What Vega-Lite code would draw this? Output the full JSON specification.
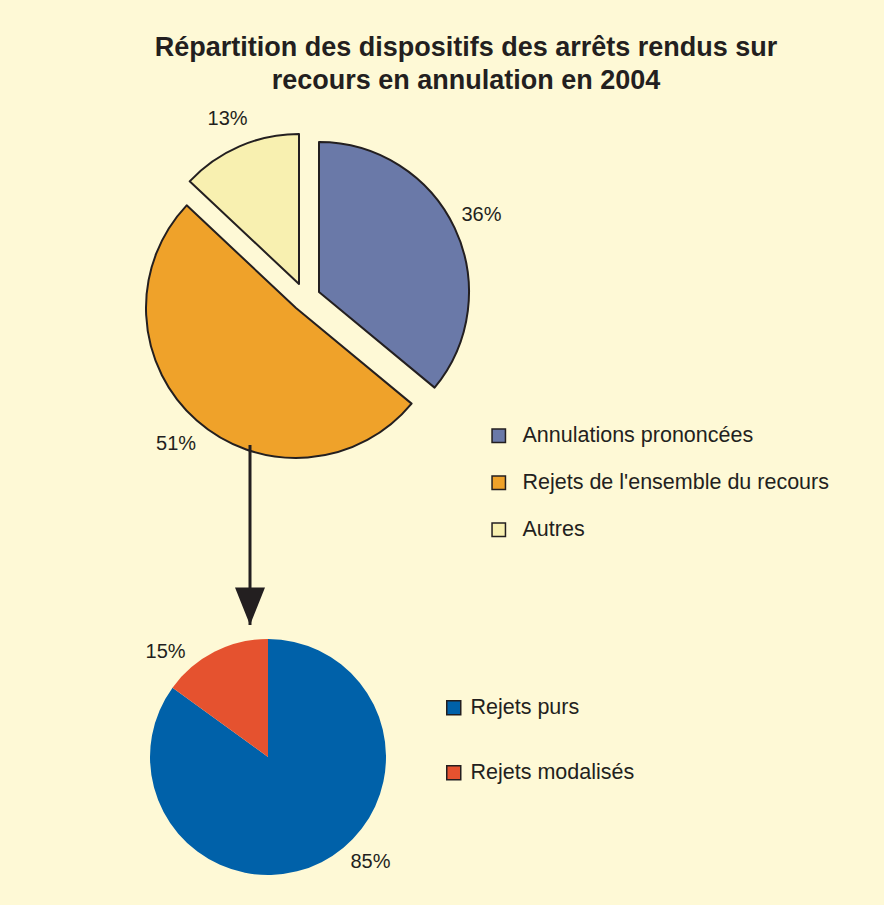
{
  "$schema": "https://vega.github.io/schema/vega-lite/v6.json",
  "background": "#FEF9D6",
  "padding": {"left": 15, "top": 34, "right": 55, "bottom": 16},
  "autosize": {"type": "pad"},
  "title": {
    "text": ["Répartition des dispositifs des arrêts rendus sur", "recours en annulation en 2004"],
    "font": "Liberation Sans",
    "fontSize": 27,
    "fontWeight": "bold",
    "color": "#231F20",
    "anchor": "middle",
    "lineHeight": 33,
    "offset": 14,
    "dx": 44
  },
  "config": {"view": {"stroke": null}, "font": "Liberation Sans"},
  "spacing": 0,
  "bounds": "flush",
  "resolve": {"scale": {"color": "independent", "theta": "independent"}},
  "vconcat": [
    {
      "width": 580,
      "height": 294,
      "data": {
        "values": [
          {"dispositif": "Annulations prononcées", "part": 0.36},
          {"dispositif": "Rejets de l'ensemble du recours", "part": 0.51},
          {"dispositif": "Autres", "part": 0.13}
        ]
      },
      "transform": [
        {"window": [{"op": "row_number", "as": "rang"}]},
        {"stack": "part", "groupby": [], "sort": [{"field": "rang", "order": "ascending"}], "as": ["debut", "fin"]}
      ],
      "layer": [
        {
          "transform": [{"filter": "datum.rang == 2"}],
          "mark": {"type": "arc", "outerRadius": 150, "stroke": "#231F20", "strokeWidth": 2, "strokeJoin": "round", "xOffset": -9, "yOffset": 10},
          "encoding": {
            "theta": {"field": "debut", "type": "quantitative", "stack": null, "scale": {"domain": [0, 1]}},
            "theta2": {"field": "fin"},
            "color": {
              "field": "dispositif",
              "type": "nominal",
              "scale": {
                "domain": ["Annulations prononcées", "Rejets de l'ensemble du recours", "Autres"],
                "range": ["#6A79A8", "#EFA22A", "#F8F0B0"]
              },
              "legend": {
                "orient": "none",
                "legendX": 473,
                "legendY": 274,
                "title": null,
                "padding": 0,
                "symbolType": "square",
                "symbolSize": 180,
                "symbolStrokeColor": "#231F20",
                "symbolStrokeWidth": 1.5,
                "symbolOpacity": 1,
                "labelFont": "Liberation Sans",
                "labelFontSize": 21.5,
                "labelColor": "#231F20",
                "labelOffset": 13,
                "labelLimit": 400,
                "rowPadding": 24
              }
            }
          }
        },
        {
          "transform": [{"filter": "datum.rang == 1"}],
          "mark": {"type": "arc", "outerRadius": 150, "stroke": "#231F20", "strokeWidth": 2, "strokeJoin": "round", "xOffset": 14, "yOffset": -6},
          "encoding": {
            "theta": {"field": "debut", "type": "quantitative", "stack": null, "scale": {"domain": [0, 1]}},
            "theta2": {"field": "fin"},
            "color": {"field": "dispositif", "type": "nominal"}
          }
        },
        {
          "transform": [{"filter": "datum.rang == 3"}],
          "mark": {"type": "arc", "outerRadius": 150, "stroke": "#231F20", "strokeWidth": 2, "strokeJoin": "round", "xOffset": -6, "yOffset": -14},
          "encoding": {
            "theta": {"field": "debut", "type": "quantitative", "stack": null, "scale": {"domain": [0, 1]}},
            "theta2": {"field": "fin"},
            "color": {"field": "dispositif", "type": "nominal"}
          }
        },
        {
          "mark": {"type": "text", "radius": 195, "fontSize": 20, "color": "#231F20", "font": "Liberation Sans", "align": "center", "baseline": "middle"},
          "encoding": {
            "theta": {"field": "part", "type": "quantitative", "stack": true, "scale": {"domain": [0, 1]}},
            "order": {"field": "rang", "type": "quantitative"},
            "text": {"field": "part", "type": "quantitative", "format": ".0%"}
          }
        }
      ]
    },
    {
      "width": 470,
      "height": 180,
      "data": {"values": [{"de": "Rejets de l'ensemble du recours", "vers": "Rejets purs / Rejets modalisés"}]},
      "layer": [
        {
          "mark": {"type": "rule", "color": "#231F20", "strokeWidth": 3},
          "encoding": {
            "x": {"datum": 0, "type": "quantitative", "scale": {"domain": [-1, 1]}, "axis": null}
          }
        },
        {
          "mark": {"type": "point", "shape": "M-1,-2.5L1,-2.5L0,0Z", "size": 900, "filled": true, "color": "#231F20", "opacity": 1, "strokeWidth": 0},
          "encoding": {
            "x": {"datum": 0, "type": "quantitative", "scale": {"domain": [-1, 1]}, "axis": null},
            "y": {"datum": 0, "type": "quantitative", "scale": {"domain": [0, 1]}, "axis": null}
          }
        }
      ]
    },
    {
      "width": 506,
      "height": 264,
      "data": {
        "values": [
          {"rejet": "Rejets purs", "part": 0.85},
          {"rejet": "Rejets modalisés", "part": 0.15}
        ]
      },
      "transform": [{"window": [{"op": "row_number", "as": "rang"}]}],
      "encoding": {
        "theta": {"field": "part", "type": "quantitative", "stack": true, "scale": {"domain": [0, 1]}},
        "order": {"field": "rang", "type": "quantitative"}
      },
      "layer": [
        {
          "mark": {"type": "arc", "outerRadius": 118},
          "encoding": {
            "color": {
              "field": "rejet",
              "type": "nominal",
              "scale": {"domain": ["Rejets purs", "Rejets modalisés"], "range": ["#0061A9", "#E5522F"]},
              "legend": {
                "orient": "none",
                "legendX": 428,
                "legendY": 72,
                "title": null,
                "padding": 0,
                "symbolType": "square",
                "symbolSize": 196,
                "symbolStrokeColor": "#231F20",
                "symbolStrokeWidth": 1.5,
                "symbolOpacity": 1,
                "labelFont": "Liberation Sans",
                "labelFontSize": 21.5,
                "labelColor": "#231F20",
                "labelOffset": 6,
                "labelLimit": 400,
                "rowPadding": 42
              }
            }
          }
        },
        {
          "mark": {"type": "text", "radius": 147, "thetaOffset": -0.3, "fontSize": 20, "color": "#231F20", "font": "Liberation Sans", "align": "center", "baseline": "middle"},
          "encoding": {
            "text": {"field": "part", "type": "quantitative", "format": ".0%"}
          }
        }
      ]
    }
  ]
}
